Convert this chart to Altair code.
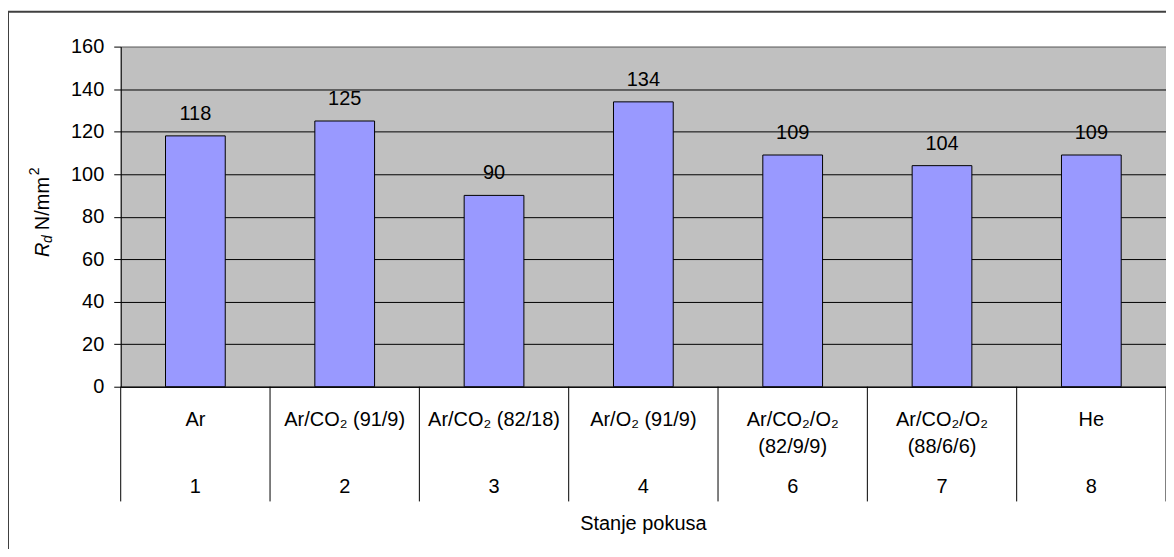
import altair as alt
import pandas as pd

# ---- data ----
labels_line1 = ["Ar", "Ar/CO₂  (91/9)", "Ar/CO₂  (82/18)", "Ar/O₂  (91/9)",
                "Ar/CO₂/O₂", "Ar/CO₂/O₂", "He"]
labels_line2 = ["", "", "", "", "(82/9/9)", "(88/6/6)", ""]
run_numbers = ["1", "2", "3", "4", "6", "7", "8"]
values = [118, 125, 90, 134, 109, 104, 109]
y_ticks = [0, 20, 40, 60, 80, 100, 120, 140, 160]
x_title = ["Stanje pokusa"]
y_title_main = ["R"]
y_title_sub = ["d"]
y_title_unit = ["N/mm"]
y_title_sup = ["2"]

FONT = "Liberation Sans, Arial, sans-serif"
FS = 20
W, H = 1048, 341
n = len(values)

df = pd.DataFrame({
    "pos": list(range(1, n + 1)),
    "value": values,
    "line1": labels_line1,
    "line2": labels_line2,
    "num": run_numbers,
})
bounds = pd.DataFrame({"b": [i + 0.5 for i in range(n + 1)]})
one = pd.DataFrame({"t": x_title})

xscale = alt.Scale(domain=[0.5, n + 0.5], nice=False, zero=False)
yscale = alt.Scale(domain=[y_ticks[0], y_ticks[-1]], nice=False)

border = alt.Chart(one).mark_rect(
    fill="transparent", stroke="#404040", strokeWidth=2
).encode(
    x=alt.value(-113), x2=alt.value(W + 300),
    y=alt.value(-35), y2=alt.value(H + 400),
)

bars = alt.Chart(df).transform_calculate(
    lo="datum.pos - 0.2", hi="datum.pos + 0.2"
).mark_rect(fill="#9999FF", stroke="#000000", strokeWidth=1).encode(
    x=alt.X("lo:Q", scale=xscale, title=None,
            axis=alt.Axis(labels=False, ticks=False, title=None, grid=False,
                          domain=True, domainColor="#000000", domainWidth=1)),
    x2="hi:Q",
    y=alt.Y("value:Q", scale=yscale, title=None,
            axis=alt.Axis(values=y_ticks, title=None, grid=True,
                          gridColor={"condition": {"test": "datum.value === 160", "value": "#808080"},
                                     "value": "#000000"},
                          gridWidth=1, domain=True, domainColor="#000000",
                          ticks=True, tickColor="#000000", tickSize=7,
                          labelFont=FONT, labelFontSize=FS, labelColor="#000000",
                          labelPadding=10)),
    y2=alt.datum(0),
)

value_labels = alt.Chart(df).mark_text(
    dy=-22, baseline="middle", font=FONT, fontSize=FS, color="#000000"
).encode(
    x=alt.X("pos:Q", scale=xscale, title=None),
    y=alt.Y("value:Q", scale=yscale, title=None),
    text="value:Q",
)

dividers = alt.Chart(bounds).mark_rule(color="#000000", strokeWidth=1).encode(
    x=alt.X("b:Q", scale=xscale, title=None),
    y=alt.value(H), y2=alt.value(456),
)

cat1 = alt.Chart(df).mark_text(baseline="middle", font=FONT, fontSize=FS, color="#000000").encode(
    x=alt.X("pos:Q", scale=xscale, title=None), y=alt.value(374), text="line1:N")
cat2 = alt.Chart(df).mark_text(baseline="middle", font=FONT, fontSize=FS, color="#000000").encode(
    x=alt.X("pos:Q", scale=xscale, title=None), y=alt.value(401), text="line2:N")
nums = alt.Chart(df).mark_text(baseline="middle", font=FONT, fontSize=FS, color="#000000").encode(
    x=alt.X("pos:Q", scale=xscale, title=None), y=alt.value(442), text="num:N")

xt = alt.Chart(one).mark_text(baseline="middle", align="center", font=FONT, fontSize=FS, color="#000000").encode(
    x=alt.value(W / 2), y=alt.value(479), text="t:N")

YT_X, YT_Y = -78, 211
yt1 = alt.Chart(pd.DataFrame({"t": y_title_main})).mark_text(
    angle=270, align="left", baseline="middle", font=FONT, fontSize=FS,
    fontStyle="italic", color="#000000").encode(
    x=alt.value(YT_X), y=alt.value(YT_Y), text="t:N")
yt2 = alt.Chart(pd.DataFrame({"t": y_title_sub})).mark_text(
    angle=270, align="left", baseline="middle", font=FONT, fontSize=14,
    fontStyle="italic", color="#000000", dx=14, dy=5).encode(
    x=alt.value(YT_X), y=alt.value(YT_Y), text="t:N")
yt3 = alt.Chart(pd.DataFrame({"t": y_title_unit})).mark_text(
    angle=270, align="left", baseline="middle", font=FONT, fontSize=FS,
    color="#000000", dx=27).encode(
    x=alt.value(YT_X), y=alt.value(YT_Y), text="t:N")
yt4 = alt.Chart(pd.DataFrame({"t": y_title_sup})).mark_text(
    angle=270, align="left", baseline="middle", font=FONT, fontSize=14,
    color="#000000", dx=82, dy=-8).encode(
    x=alt.value(YT_X), y=alt.value(YT_Y), text="t:N")

chart = alt.layer(
    border, bars, value_labels, dividers, cat1, cat2, nums, xt, yt1, yt2, yt3, yt4
).properties(
    width=W, height=H,
    autosize=alt.AutoSizeParams(type="none"),
    padding={"left": 113, "top": 38, "right": 0, "bottom": 162},
    background="#FFFFFF",
).configure_view(
    fill="#C0C0C0", stroke="#808080", strokeWidth=1
)

chart.save("out.html", embed_options={"renderer": "svg", "actions": False})
